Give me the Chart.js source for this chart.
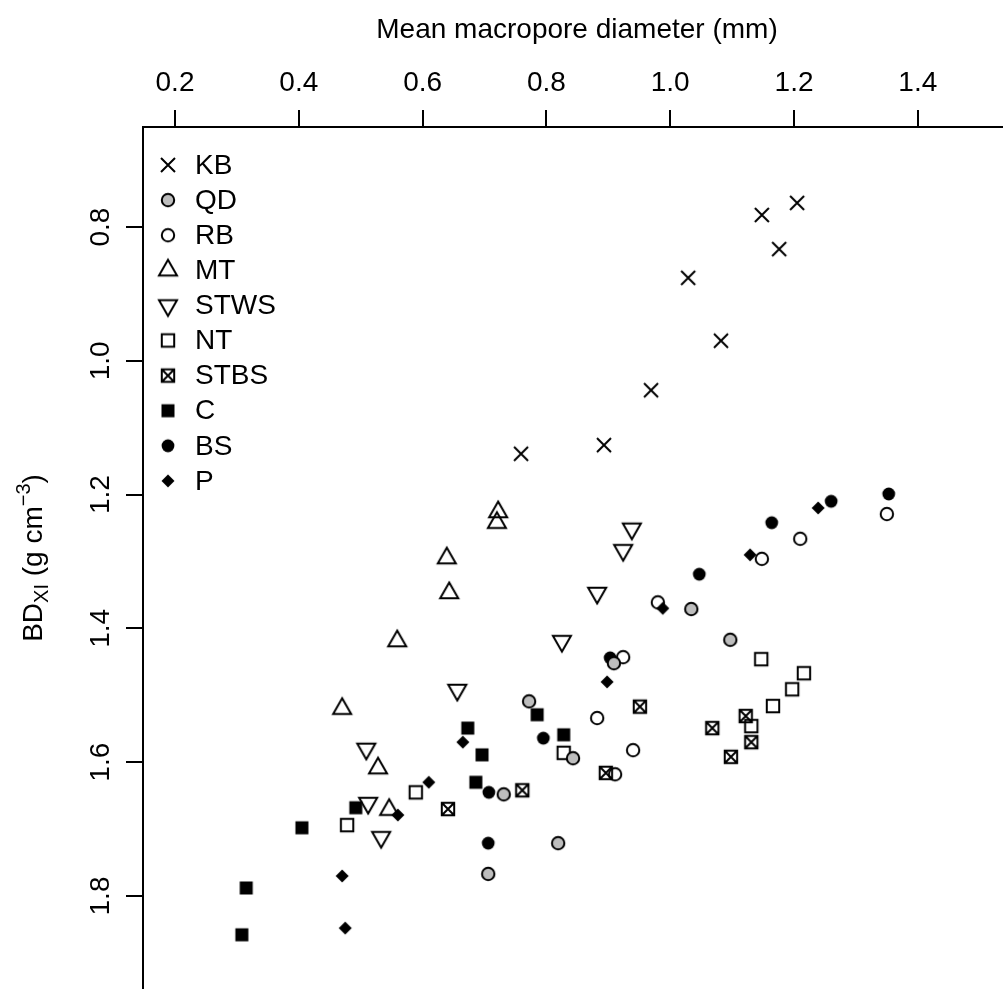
<!DOCTYPE html>
<html>
<head>
<meta charset="utf-8">
<script src="https://cdn.jsdelivr.net/npm/chart.js@4.4.1/dist/chart.umd.min.js"></script>
<style>
  html, body { margin: 0; padding: 0; background: #fff; overflow: hidden; }
  #wrap { width: 1003px; height: 989px; position: relative; }
</style>
</head>
<body>
<div id="wrap"><canvas id="myChart"></canvas></div>
<script>
// groups in legend order
const groups = ['KB', 'QD', 'RB', 'MT', 'STWS', 'NT', 'STBS', 'C', 'BS', 'P'];

// mean macropore diameter (mm) and BD_XI (g cm-3) for each group
const kbX = [1.205, 1.148, 1.176, 1.029, 1.082, 0.969, 0.893, 0.759];
const kbY = [0.764, 0.782, 0.833, 0.876, 0.970, 1.044, 1.126, 1.139];
const qdX = [1.034, 1.097, 0.909, 0.772, 0.843, 0.731, 0.819, 0.706];
const qdY = [1.371, 1.417, 1.452, 1.509, 1.594, 1.648, 1.721, 1.767];
const rbX = [1.350, 1.210, 1.148, 0.980, 0.924, 0.882, 0.940, 0.911];
const rbY = [1.229, 1.266, 1.296, 1.361, 1.443, 1.534, 1.582, 1.618];
const mtX = [0.722, 0.720, 0.639, 0.643, 0.559, 0.470, 0.528, 0.546];
const mtY = [1.226, 1.242, 1.295, 1.347, 1.419, 1.520, 1.609, 1.671];
const stwsX = [0.938, 0.924, 0.882, 0.825, 0.656, 0.509, 0.512, 0.533];
const stwsY = [1.251, 1.283, 1.347, 1.419, 1.492, 1.580, 1.661, 1.712];
const ntX = [1.216, 1.197, 1.166, 1.147, 1.131, 0.828, 0.589, 0.478];
const ntY = [1.467, 1.491, 1.516, 1.446, 1.546, 1.586, 1.645, 1.694];
const stbsX = [0.951, 1.122, 1.068, 1.131, 1.098, 0.896, 0.761, 0.641];
const stbsY = [1.517, 1.531, 1.549, 1.570, 1.592, 1.616, 1.642, 1.670];
const cX = [0.785, 0.828, 0.673, 0.696, 0.686, 0.492, 0.405, 0.315, 0.308];
const cY = [1.529, 1.559, 1.549, 1.589, 1.630, 1.668, 1.698, 1.788, 1.858];
const bsX = [1.353, 1.260, 1.164, 1.047, 0.903, 0.795, 0.707, 0.706];
const bsY = [1.199, 1.210, 1.242, 1.319, 1.444, 1.564, 1.645, 1.721];
const pX = [1.239, 1.129, 0.988, 0.898, 0.665, 0.610, 0.560, 0.470, 0.475];
const pY = [1.220, 1.290, 1.370, 1.480, 1.570, 1.630, 1.679, 1.770, 1.848];

const xTicks = [0.2, 0.4, 0.6, 0.8, 1.0, 1.2, 1.4];
const yTicks = [0.8, 1.0, 1.2, 1.4, 1.6, 1.8];

const FONT = '28px "Liberation Sans", Arial, sans-serif';
const SMALL = '20px "Liberation Sans", Arial, sans-serif';

// plotting symbols, drawn once on small canvases
function marker(kind) {
  const c = document.createElement('canvas');
  c.width = 28; c.height = 28;
  const g = c.getContext('2d');
  const m = 14;
  g.lineWidth = 2;
  g.strokeStyle = '#000';
  g.fillStyle = '#000';
  g.beginPath();
  if (kind === 'cross') {
    const h = 7;
    g.moveTo(m - h, m - h); g.lineTo(m + h, m + h);
    g.moveTo(m + h, m - h); g.lineTo(m - h, m + h);
    g.stroke();
  } else if (kind === 'circle' || kind === 'grayCircle') {
    g.arc(m, m, 6.2, 0, 2 * Math.PI);
    if (kind === 'grayCircle') { g.fillStyle = '#bebebe'; g.fill(); }
    g.stroke();
  } else if (kind === 'up' || kind === 'down') {
    const r = 10.4, xc = r * 0.866, s = kind === 'up' ? 1 : -1;
    g.moveTo(m, m - s * r);
    g.lineTo(m + xc, m + s * r / 2);
    g.lineTo(m - xc, m + s * r / 2);
    g.closePath();
    g.stroke();
  } else if (kind === 'square' || kind === 'squareX') {
    const h = 6.2;
    g.rect(m - h, m - h, 2 * h, 2 * h);
    if (kind === 'squareX') {
      g.moveTo(m - h, m - h); g.lineTo(m + h, m + h);
      g.moveTo(m + h, m - h); g.lineTo(m - h, m + h);
    }
    g.stroke();
  } else if (kind === 'fillSquare') {
    g.fillRect(m - 6.5, m - 6.5, 13, 13);
  } else if (kind === 'fillCircle') {
    g.arc(m, m, 6.4, 0, 2 * Math.PI);
    g.fill();
  } else if (kind === 'diamond') {
    const h = 6.5;
    g.moveTo(m - h, m); g.lineTo(m, m - h); g.lineTo(m + h, m); g.lineTo(m, m + h);
    g.closePath();
    g.fill();
  }
  return c;
}

const symbols = ['cross', 'grayCircle', 'circle', 'up', 'down', 'square', 'squareX', 'fillSquare', 'fillCircle', 'diamond'].map(marker);
const seriesX = [kbX, qdX, rbX, mtX, stwsX, ntX, stbsX, cX, bsX, pX];
const seriesY = [kbY, qdY, rbY, mtY, stwsY, ntY, stbsY, cY, bsY, pY];

const datasets = groups.map((name, i) => ({
  label: name,
  data: seriesX[i].map((x, k) => ({ x: x, y: seriesY[i][k] })),
  pointStyle: symbols[i],
  pointRadius: 7
}));

// fixed margins: 143px on the left, 127px on top, nothing right/bottom
function fixLeft(s) { s.width = 143; s.paddingTop = 0; s.paddingBottom = 0; s.paddingLeft = 0; s.paddingRight = 0; }
function fixTop(s) { s.height = 127; s.paddingTop = 0; s.paddingBottom = 0; s.paddingLeft = 0; s.paddingRight = 0; }

// rotated y labels, axis titles and the legend
const decorations = {
  id: 'decorations',
  afterDraw(chart) {
    const ctx = chart.ctx;
    const ys = chart.scales.y;
    ctx.save();
    ctx.fillStyle = '#000';
    ctx.font = FONT;
    ctx.textAlign = 'center';
    ctx.textBaseline = 'alphabetic';

    yTicks.forEach(v => {
      ctx.save();
      ctx.translate(109, ys.getPixelForValue(v));
      ctx.rotate(-Math.PI / 2);
      ctx.fillText(v.toFixed(1), 0, 0);
      ctx.restore();
    });

    ctx.fillText('Mean macropore diameter (mm)', 577, 38);

    // BD_XI (g cm^-3)
    const parts = [
      { t: 'BD', f: FONT, dy: 0 },
      { t: 'XI', f: SMALL, dy: 6 },
      { t: ' (g cm', f: FONT, dy: 0 },
      { t: '\u22123', f: SMALL, dy: -12 },
      { t: ')', f: FONT, dy: 0 }
    ];
    let total = 0;
    parts.forEach(p => { ctx.font = p.f; p.w = ctx.measureText(p.t).width; total += p.w; });
    ctx.save();
    ctx.translate(42, 558);
    ctx.rotate(-Math.PI / 2);
    ctx.textAlign = 'left';
    let px = -total / 2;
    parts.forEach(p => { ctx.font = p.f; ctx.fillText(p.t, px, p.dy); px += p.w; });
    ctx.restore();

    // legend, top left inside the plot
    ctx.font = FONT;
    ctx.textAlign = 'left';
    ctx.textBaseline = 'middle';
    groups.forEach((name, i) => {
      const y = 165 + i * 35.1;
      ctx.drawImage(symbols[i], 168 - 14, y - 14);
      ctx.fillText(name, 195, y + 1);
    });
    ctx.restore();
  }
};

const config = {
  type: 'scatter',
  data: { datasets: datasets },
  options: {
    responsive: true,
    maintainAspectRatio: false,
    animation: false,
    events: [],
    layout: { padding: 0, autoPadding: false },
    plugins: {
      legend: { display: false },
      tooltip: { enabled: false }
    },
    scales: {
      x: {
        type: 'linear',
        position: 'top',
        min: 0.1483,
        max: 1.5376,
        afterBuildTicks: s => { s.ticks = xTicks.map(v => ({ value: v })); },
        afterFit: fixTop,
        grid: { drawOnChartArea: false, drawTicks: true, tickLength: 17, color: '#000', lineWidth: 2 },
        border: { display: true, color: '#000', width: 2 },
        ticks: {
          color: '#000',
          font: { family: '"Liberation Sans", Arial, sans-serif', size: 28 },
          padding: 10,
          maxRotation: 0,
          callback: v => v.toFixed(1)
        }
      },
      y: {
        type: 'linear',
        position: 'left',
        reverse: true,
        min: 0.6505,
        max: 1.9390,
        afterBuildTicks: s => { s.ticks = yTicks.map(v => ({ value: v })); },
        afterFit: fixLeft,
        grid: { drawOnChartArea: false, drawTicks: true, tickLength: 17, color: '#000', lineWidth: 2 },
        border: { display: true, color: '#000', width: 2 },
        ticks: { display: false }
      }
    }
  },
  plugins: [decorations]
};

const myChart = new Chart(document.getElementById('myChart'), config);
</script>
</body>
</html>
